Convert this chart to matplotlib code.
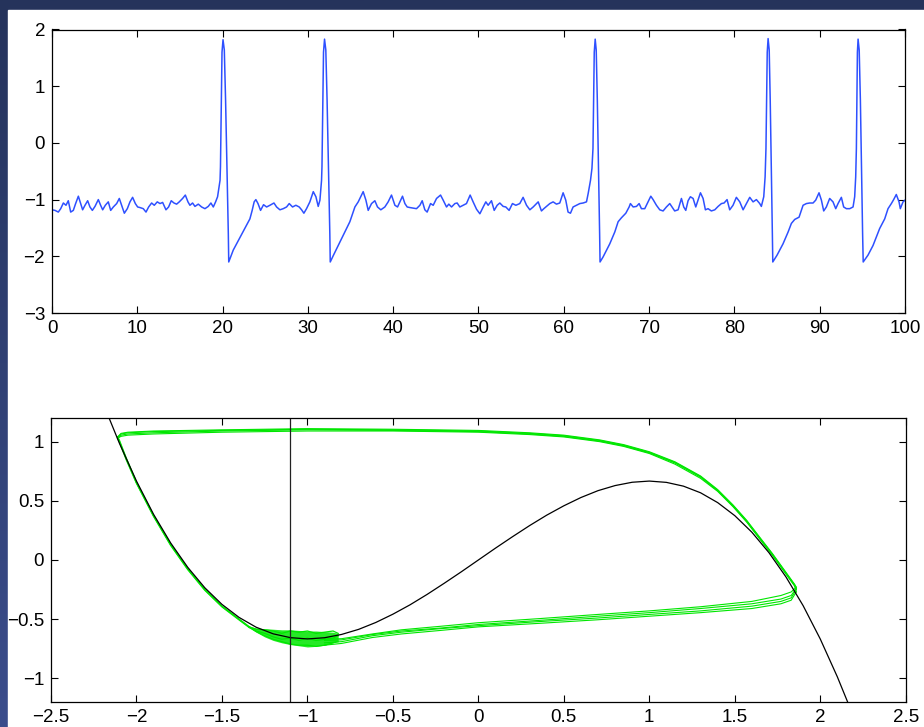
import numpy as np
import matplotlib
matplotlib.use("Agg")
import matplotlib.pyplot as plt
from matplotlib.patches import Rectangle
from matplotlib.colors import LinearSegmentedColormap

plt.rcParams['font.family'] = ['Liberation Sans', 'DejaVu Sans']

# ---- membrane trace (time, voltage) ----
trace_t = [0.0, 0.35, 0.74, 1.02, 1.33, 1.64, 1.91, 2.19, 2.5, 2.77, 3.09, 3.36, 3.59, 3.87,
           4.18, 4.45, 4.73, 5.04, 5.43, 5.7, 5.94, 6.25, 6.6, 6.88, 7.19, 7.58, 7.89, 8.16,
           8.48, 8.83, 9.14, 9.45, 9.77, 10.04, 10.31, 10.7, 11.02, 11.33, 11.68, 11.99, 12.34,
           12.66, 12.97, 13.36, 13.67, 13.98, 14.3, 14.61, 14.92, 15.31, 15.63, 15.94, 16.17,
           16.48, 16.76, 17.15, 17.54, 17.93, 18.32, 18.63, 18.91, 19.18, 19.41,
           19.7, 19.75, 19.85, 19.93, 20.05, 20.2, 20.35, 20.51, 20.67, 20.72,
           21.25, 22.0, 22.8, 23.2, 23.45, 23.7, 23.9, 24.15, 24.45, 24.8, 25.16, 25.55, 26.02,
           26.33, 26.72, 27.11, 27.5, 27.81, 28.2, 28.59, 28.98, 29.26, 29.53, 29.84, 30.23,
           30.63, 30.94, 31.21, 31.41,
           31.6, 31.65, 31.75, 31.83, 31.95, 32.1, 32.25, 32.41, 32.57, 32.62,
           33.0, 33.75, 34.53, 34.92, 35.51, 35.9, 36.48, 36.8, 37.07, 37.46, 37.85, 38.16,
           38.55, 39.02, 39.41, 39.8, 40.2, 40.51, 40.78, 41.09, 41.37, 41.64, 41.95, 42.34,
           42.73, 43.13, 43.4, 43.71, 43.98, 44.38, 44.69, 45.08, 45.55, 45.86, 46.25, 46.52,
           46.84, 47.23, 47.5, 47.81, 48.2, 48.59, 49.02, 49.37, 49.77, 50.16, 50.55, 50.86,
           51.13, 51.52, 51.84, 52.19, 52.5, 52.89, 53.2, 53.59, 53.98, 54.38, 54.84, 55.23,
           55.63, 56.02, 56.41, 57.0, 57.38, 57.66, 57.97, 58.36, 58.75, 59.14, 59.53, 59.92,
           60.23, 60.5, 60.78, 61.09, 61.48, 61.88, 62.27, 62.66, 62.86, 63.13,
           63.3, 63.42, 63.5, 63.57, 63.68, 63.8, 63.93, 64.07, 64.2, 64.25,
           64.61, 65.39, 65.98, 66.37, 66.76, 67.27, 67.66, 67.81, 68.13, 68.52, 68.83, 69.1,
           69.49, 69.88, 70.2, 70.47, 70.86, 71.25, 71.64, 72.03, 72.42, 72.73, 73.0, 73.4,
           73.79, 74.06, 74.3, 74.57, 74.84, 75.16, 75.47, 75.74, 76.02, 76.33, 76.6, 76.91,
           77.3, 77.7, 78.09, 78.48, 78.79, 79.14, 79.45, 79.84, 80.23, 80.63, 81.02, 81.41,
           81.8, 82.19, 82.58, 82.97, 83.16, 83.44,
           83.6, 83.7, 83.78, 83.85, 83.95, 84.08, 84.2, 84.33, 84.45, 84.5,
           85.0, 85.7, 86.3, 86.68, 87.07, 87.58, 88.05, 88.44, 88.83, 89.22, 89.53, 89.92,
           90.2, 90.47, 90.78, 91.17, 91.56, 91.88, 92.15, 92.54, 92.81, 93.13, 93.52, 93.91,
           94.1, 94.22, 94.3, 94.36, 94.42, 94.5, 94.63, 94.77, 94.9, 95.03, 95.1,
           95.66, 96.25, 97.03, 97.62, 98.01, 98.4, 98.67, 98.98, 99.3, 99.45, 99.77, 100.0]
trace_v = [-1.18, -1.19, -1.22, -1.16, -1.06, -1.10, -1.02, -1.22, -1.19, -1.07, -0.94, -1.07, -1.18, -1.10,
           -1.02, -1.13, -1.19, -1.12, -1.00, -1.10, -1.18, -1.10, -1.04, -1.19, -1.13, -1.07, -0.98, -1.10,
           -1.24, -1.16, -1.04, -0.96, -1.07, -1.13, -1.14, -1.16, -1.22, -1.13, -1.06, -1.10, -1.04,
           -1.07, -1.05, -1.18, -1.13, -1.02, -1.06, -1.08, -1.04, -0.98, -0.92, -1.04, -1.10,
           -1.06, -1.12, -1.08, -1.13, -1.16, -1.12, -1.06, -1.13, -1.04, -0.95,
           -0.66, -0.42, 0.75, 1.6, 1.82, 1.64, 0.75, -0.42, -1.6, -2.1,
           -1.89, -1.68, -1.46, -1.34, -1.2, -1.04, -1.0, -1.07, -1.19, -1.09, -1.13, -1.10, -1.06,
           -1.13, -1.18, -1.16, -1.13, -1.07, -1.13, -1.10, -1.13, -1.18, -1.24, -1.16, -1.04,
           -0.86, -0.95, -1.12, -1.01,
           -0.66, -0.42, 0.75, 1.6, 1.83, 1.64, 0.75, -0.42, -1.6, -2.1,
           -1.98, -1.75, -1.51, -1.39, -1.13, -1.04, -0.86, -1.01, -1.19, -1.07, -1.02, -1.13,
           -1.18, -1.13, -1.04, -0.92, -1.10, -1.13, -1.04, -0.94, -1.07, -1.13, -1.14, -1.15,
           -1.16, -1.10, -1.02, -1.18, -1.22, -1.07, -1.10, -0.98, -0.92, -1.01, -1.13, -1.08,
           -1.13, -1.07, -1.06, -1.13, -1.10, -1.07, -0.92, -1.04, -1.17, -1.25, -1.13, -1.04,
           -1.10, -1.02, -1.19, -1.10, -1.06, -1.12, -1.13, -1.19, -1.07, -1.10, -1.07, -0.96,
           -1.10, -1.18, -1.13, -1.04, -1.20, -1.16, -1.12, -1.07, -1.04, -1.08, -1.06, -0.88,
           -1.01, -1.22, -1.24, -1.13, -1.10, -1.07, -1.06, -1.04, -0.89, -0.66,
           -0.45, -0.1, 0.75, 1.6, 1.83, 1.64, 0.75, -0.42, -1.6, -2.1,
           -2.01, -1.78, -1.57, -1.39, -1.32, -1.24, -1.13, -1.07, -1.13, -1.12, -1.07, -1.16,
           -1.16, -1.04, -0.94, -1.00, -1.10, -1.18, -1.20, -1.13, -1.07, -1.14, -1.20, -1.18,
           -0.98, -1.13, -1.19, -1.02, -0.95, -0.98, -1.13, -1.01, -0.88, -0.98, -1.18, -1.16,
           -1.20, -1.18, -1.12, -1.07, -1.06, -1.00, -1.18, -1.10, -0.96, -1.04, -1.18, -1.07,
           -0.96, -1.04, -1.00, -1.07, -1.12, -0.95,
           -0.6, -0.1, 0.75, 1.6, 1.84, 1.64, 0.75, -0.42, -1.6, -2.1,
           -1.98, -1.78, -1.57, -1.42, -1.35, -1.31, -1.10, -1.07, -1.06, -1.06, -1.01, -0.88,
           -1.01, -1.20, -1.13, -0.98, -1.04, -1.16, -1.07, -0.96, -1.13, -1.16, -1.16, -1.13,
           -0.95, -0.6, -0.1, 0.75, 1.6, 1.83, 1.64, 0.75, -0.42, -1.6, -2.1,
           -1.98, -1.81, -1.51, -1.34, -1.16, -1.07, -1.00, -0.91, -1.04, -1.16, -1.04, -1.01]

top_xticks = [0, 10, 20, 30, 40, 50, 60, 70, 80, 90, 100]
top_xlabels = ['0', '10', '20', '30', '40', '50', '60', '70', '80', '90', '100']
top_yticks = [-3, -2, -1, 0, 1, 2]
top_ylabels = ['\u22123', '\u22122', '\u22121', '0', '1', '2']

# ---- phase plane: cubic nullcline ----
null_v = [-2.16, -2.1, -2.0, -1.9, -1.8, -1.7, -1.6, -1.5, -1.4, -1.3, -1.2, -1.1, -1.0, -0.9,
          -0.8, -0.7, -0.6, -0.5, -0.4, -0.3, -0.2, -0.1, 0.0, 0.1, 0.2, 0.3, 0.4, 0.5, 0.6,
          0.7, 0.8, 0.9, 1.0, 1.1, 1.2, 1.3, 1.4, 1.5, 1.6, 1.7, 1.8, 1.9, 2.0, 2.1, 2.16]
null_w = [1.199, 0.987, 0.667, 0.386, 0.144, -0.062, -0.235, -0.375, -0.485, -0.568, -0.624,
          -0.656, -0.667, -0.657, -0.629, -0.586, -0.528, -0.458, -0.379, -0.291, -0.197,
          -0.100, 0.0, 0.100, 0.197, 0.291, 0.379, 0.458, 0.528, 0.586, 0.629, 0.657, 0.667,
          0.656, 0.624, 0.568, 0.485, 0.375, 0.235, 0.062, -0.144, -0.386, -0.667, -0.987, -1.199]
vline_v = -1.1

# ---- phase plane: trajectory passes ----
lower_v = [1.86, 1.83, 1.77, 1.6, 1.3, 1.0, 0.7, 0.36, 0.0, -0.22, -0.45, -0.62, -0.8, -0.9]
lower_w = [
    [-0.27, -0.34, -0.37, -0.41, -0.445, -0.475, -0.505, -0.535, -0.565, -0.595, -0.625, -0.655, -0.705, -0.72],
    [-0.25, -0.32, -0.35, -0.39, -0.43, -0.46, -0.49, -0.52, -0.555, -0.58, -0.61, -0.64, -0.69, -0.70],
    [-0.24, -0.30, -0.33, -0.37, -0.41, -0.445, -0.475, -0.51, -0.545, -0.575, -0.60, -0.63, -0.675, -0.68],
    [-0.23, -0.27, -0.30, -0.35, -0.395, -0.43, -0.46, -0.495, -0.53, -0.56, -0.59, -0.625, -0.665, -0.67],
]

blob_v = [-1.34, -1.3, -1.25, -1.2, -1.15, -1.1, -1.05, -1.0, -0.95, -0.9, -0.85, -0.82]
blob_top = [-0.56, -0.575, -0.58, -0.585, -0.59, -0.59, -0.595, -0.6, -0.6, -0.605, -0.61, -0.62]
blob_bot = [-0.57, -0.61, -0.65, -0.68, -0.70, -0.715, -0.725, -0.735, -0.73, -0.72, -0.70, -0.68]
blob_w = [
    [-0.565, -0.585, -0.59, -0.60, -0.62, -0.60, -0.61, -0.60, -0.62, -0.61, -0.60, -0.62],
    [-0.565, -0.60, -0.62, -0.65, -0.67, -0.66, -0.68, -0.66, -0.68, -0.67, -0.66, -0.64],
    [-0.57, -0.605, -0.64, -0.67, -0.69, -0.71, -0.72, -0.72, -0.73, -0.72, -0.70, -0.69],
]

left_v = [-1.34, -1.4, -1.5, -1.6, -1.7, -1.8, -1.9, -2.0, -2.06, -2.1, -2.11]
left_w = [
    [-0.57, -0.505, -0.395, -0.255, -0.08, 0.125, 0.37, 0.65, 0.85, 1.0, 1.03],
    [-0.565, -0.50, -0.39, -0.25, -0.075, 0.13, 0.375, 0.655, 0.86, 1.01, 1.04],
]

upper_v = [-2.11, -2.09, -2.05, -1.9, -1.5, -1.0, -0.5, 0.0, 0.3, 0.5, 0.71, 0.85, 1.0, 1.15,
           1.3, 1.4, 1.49, 1.57, 1.65, 1.72, 1.77, 1.82, 1.85, 1.86]
upper_w = [
    [1.03, 1.045, 1.055, 1.065, 1.08, 1.09, 1.09, 1.08, 1.06, 1.04, 1.0, 0.96, 0.90, 0.81,
     0.69, 0.58, 0.45, 0.32, 0.17, 0.04, -0.06, -0.16, -0.22, -0.27],
    [1.03, 1.055, 1.065, 1.075, 1.09, 1.10, 1.095, 1.085, 1.065, 1.045, 1.005, 0.965, 0.905, 0.82,
     0.70, 0.585, 0.455, 0.325, 0.175, 0.045, -0.055, -0.155, -0.215, -0.25],
    [1.04, 1.065, 1.075, 1.085, 1.095, 1.105, 1.10, 1.09, 1.07, 1.05, 1.01, 0.97, 0.91, 0.825,
     0.705, 0.59, 0.46, 0.33, 0.18, 0.05, -0.05, -0.15, -0.21, -0.24],
    [1.04, 1.07, 1.08, 1.09, 1.10, 1.11, 1.105, 1.095, 1.075, 1.055, 1.015, 0.975, 0.915, 0.83,
     0.71, 0.595, 0.465, 0.335, 0.185, 0.055, -0.045, -0.145, -0.205, -0.23],
]

bot_xticks = [-2.5, -2, -1.5, -1, -0.5, 0, 0.5, 1, 1.5, 2, 2.5]
bot_xlabels = ['\u22122.5', '\u22122', '\u22121.5', '\u22121', '\u22120.5', '0', '0.5', '1', '1.5', '2', '2.5']
bot_yticks = [-1, -0.5, 0, 0.5, 1]
bot_ylabels = ['\u22121', '\u22120.5', '0', '0.5', '1']

W, H = 924, 727
fig = plt.figure(figsize=(W / 100, H / 100), dpi=100)

# slide background: navy gradient with white page
bg = fig.add_axes([0, 0, 1, 1], zorder=-10)
bg.set_axis_off()
navy = LinearSegmentedColormap.from_list('navy', ['#25335b', '#3b4d8c'])
bg.imshow(np.linspace(0, 1, 256).reshape(-1, 1), cmap=navy, aspect='auto',
          extent=[0, 1, 0, 1], origin='upper')
bg.add_patch(Rectangle((8 / W, 0), 1 - 8 / W, 1 - 10 / H, color='white', zorder=2))
bg.set_xlim(0, 1)
bg.set_ylim(0, 1)


def style(ax):
    ax.tick_params(direction='in', top=True, right=True, length=5, width=0.8,
                   labelsize=13.5, pad=5)
    for s in ax.spines.values():
        s.set_linewidth(0.9)


ax1 = fig.add_axes([52 / W, 1 - 313 / H, (905 - 52) / W, (313 - 29.5) / H])
ax1.plot(trace_t, trace_v, color='#2e50ff', lw=1.1, solid_joinstyle='round')
ax1.set_xlim(0, 100)
ax1.set_ylim(-3, 2)
ax1.set_xticks(top_xticks)
ax1.set_xticklabels(top_xlabels)
ax1.set_yticks(top_yticks)
ax1.set_yticklabels(top_ylabels)
style(ax1)

ax2 = fig.add_axes([51 / W, 1 - 702 / H, (905.7 - 51) / W, (702 - 418) / H])
green = '#00e600'
ax2.fill_between(blob_v, blob_bot, blob_top, color=green, lw=0, alpha=0.85)
for w in blob_w:
    ax2.plot(blob_v, w, color=green, lw=0.9)
for w in lower_w:
    ax2.plot(lower_v, w, color=green, lw=0.8)
for w in left_w:
    ax2.plot(left_v, w, color=green, lw=1.1)
for w in upper_w:
    ax2.plot(upper_v, w, color=green, lw=0.8)
ax2.plot(null_v, null_w, color='black', lw=0.9)
ax2.axvline(vline_v, color='#222222', lw=0.9)
ax2.set_xlim(-2.5, 2.5)
ax2.set_ylim(-1.2, 1.2)
ax2.set_xticks(bot_xticks)
ax2.set_xticklabels(bot_xlabels)
ax2.set_yticks(bot_yticks)
ax2.set_yticklabels(bot_ylabels)
style(ax2)

fig.savefig('out.png', dpi=100)
